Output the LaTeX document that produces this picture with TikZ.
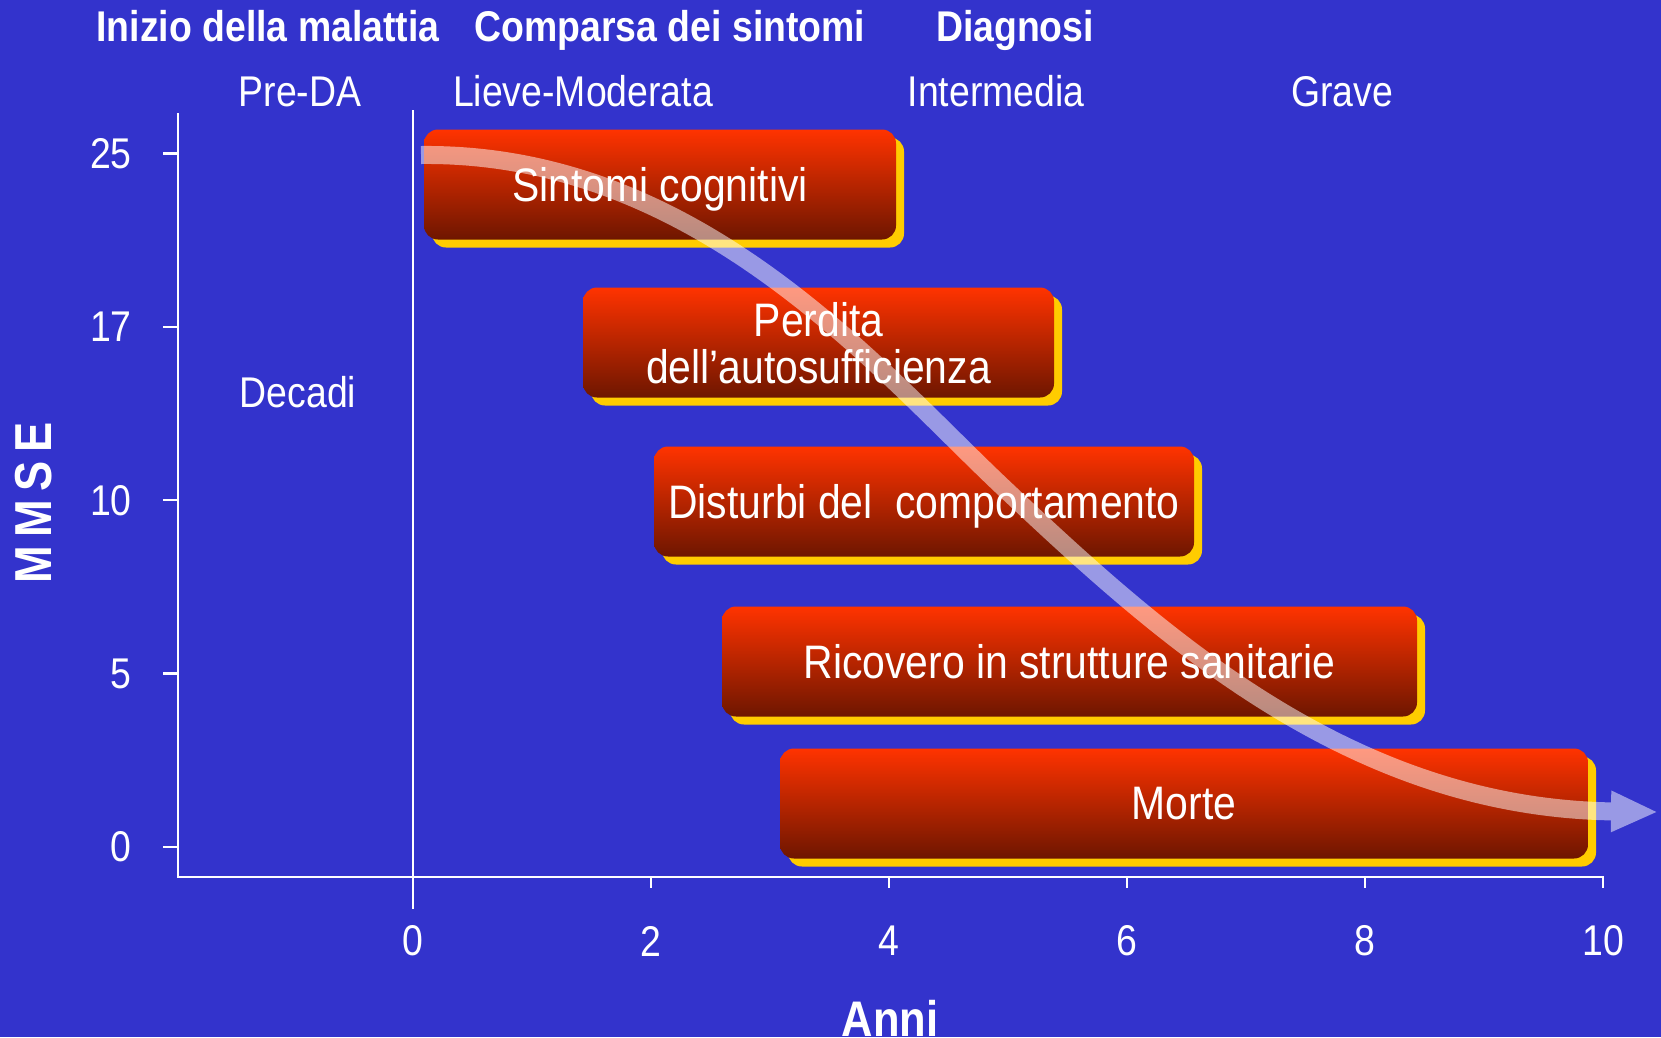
\documentclass[tikz,border=0pt]{standalone}
\usepackage{fontspec}
\setmainfont{Liberation Sans}[FakeStretch=0.87]
\usetikzlibrary{shadows,arrows.meta}

\definecolor{sfondo}{RGB}{51,51,204}
\definecolor{rossoalto}{RGB}{255,51,0}
\definecolor{rossobasso}{RGB}{110,22,0}
\definecolor{giallo}{RGB}{255,204,0}

\tikzset{
  testo/.style={text=white, font=\fontsize{43}{47}\selectfont, inner sep=0pt},
  titolo/.style={text=white, font=\fontsize{43}{47}\selectfont\bfseries, inner sep=0pt},
  barra/.style={rounded corners=14pt, top color=rossoalto, bottom color=rossobasso,
    text=white, minimum height=110pt, inner sep=0pt, align=center, text depth=0pt,
    font=\fontsize{47}{47}\selectfont,
    general shadow={fill=giallo, shadow xshift=8pt, shadow yshift=-8pt}},
  asse/.style={white, line width=2.5pt},
}

\begin{document}
\begin{tikzpicture}[x=1pt, y=-1pt]
\fill[sfondo] (0,0) rectangle (1661,1037);
\useasboundingbox (0,0) rectangle (1661,1037);

% titoli in alto
\node[titolo, anchor=base] (inizio) at (268,41) {Inizio della malattia};
\node[titolo, anchor=base] (comparsa) at (670,41) {Comparsa dei sintomi};
\node[titolo, anchor=base] (diagnosi) at (1015,41) {Diagnosi};

\node[testo, anchor=base] (preda) at (300,106) {Pre-DA};
\node[testo, anchor=base] (lieve) at (583,106) {Lieve-Moderata};
\node[testo, anchor=base] (interm) at (996,106) {Intermedia};
\node[testo, anchor=base] (grave) at (1342,106) {Grave};
\node[testo, anchor=base] (decadi) at (298,407) {Decadi};

% assi
\draw[asse] (178,113) -- (178,877) -- (1604,877);
\draw[asse] (413,110) -- (413,909);
\foreach \t in {2,4,...,10}
  \draw[asse] (413+119*\t,877) -- (413+119*\t,888);
\foreach \t in {0,2,...,10}
  \node[testo] (x\t) at (413+119*\t,941) {\t};
\foreach \v [count=\i from 0] in {25,17,10,5,0} {
  \draw[asse] (163,153.6+173.3*\i) -- (178,153.6+173.3*\i);
  \node[testo, anchor=east] (y\v) at (132,153.6+173.3*\i) {\v};
}

\node[titolo, font=\fontsize{52}{52}\selectfont\bfseries, rotate=90] (mmse) at (34,503) {M\,M\,S\,E};
\node[titolo, font=\fontsize{50}{50}\selectfont\bfseries] (anni) at (890,1018) {Anni};

% barre
\node[barra, minimum width=472pt] (cognitivi) at (660,184.5) {Sintomi cognitivi};
\node[barra, minimum width=471pt] (autosuff) at (818.5,342.5) {Perdita\\dell’autosufficienza};
\node[barra, minimum width=540pt] (comport) at (924,501.5) {Disturbi del~ comportamento};
\node[barra, minimum width=695pt] (ricovero) at (1069.5,661.5) {Ricovero in strutture sanitarie};
\node[barra, minimum width=808pt] (morte) at (1184,803.5) {Morte};

% freccia
\coordinate (partenza) at (421,155);
\coordinate (arrivo) at (1658,812);
\begin{scope}[transparency group, opacity=0.5]
\draw[white, line width=18pt, -{Triangle[length=47pt, width=38pt]}]
  (partenza) .. controls (700,152) and (880,372) .. (1006,490)
  .. controls (1160,635) and (1350,808) .. (arrivo);
\end{scope}
\end{tikzpicture}
\end{document}
